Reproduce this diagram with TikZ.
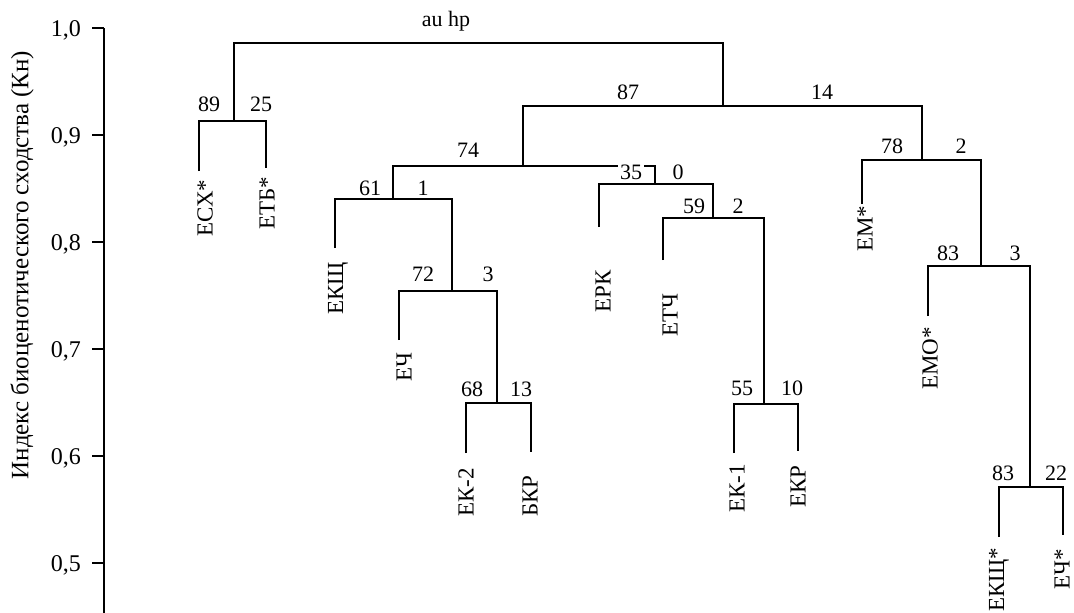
\documentclass[tikz,border=0pt]{standalone}
\usepackage{fontspec}
\setmainfont{Liberation Serif}
\begin{document}
\begin{tikzpicture}[x=1pt,y=-1pt,
  branch/.style={line width=1.2pt},
  axisline/.style={line width=1.8pt},
  num/.style={font=\fontsize{22}{24}\selectfont, inner sep=0pt},
  leaflabel/.style={font=\fontsize{23}{25}\selectfont, rotate=90, anchor=west, inner sep=0pt},
  ticklabel/.style={font=\fontsize{24}{26}\selectfont, anchor=base east, inner sep=0pt},
]
\useasboundingbox (0,0) rectangle (1074,613);

% similarity axis
\coordinate (axtop) at (104,28);
\coordinate (axbot) at (104,613);
\draw[axisline] (axtop) -- (axbot);
\foreach \v/\y in {{1,0}/28,{0,9}/135,{0,8}/242,{0,7}/349,{0,6}/456,{0,5}/563}{
  \coordinate (tk\y) at (104,\y);
  \draw[axisline] (tk\y) -- ++(-12,0) coordinate (tl\y);
  \node[ticklabel] (lab\y) at (81,\y+8) {\v};
}
\node[rotate=90, font=\fontsize{25}{27}\selectfont, inner sep=0pt] (ytitle) at (22,265)
  {Индекс биоценотического сходства (Кн)};

% junctions: (x of stem, y of crossbar)
\coordinate (root) at (478,43);
\coordinate (jA) at (234,121);
\coordinate (jB) at (723,106);
\coordinate (jC) at (523,166);
\coordinate (jD) at (393,199);
\coordinate (jE) at (452,291);
\coordinate (jF) at (497,403);
\coordinate (jG) at (655,184);
\coordinate (jI) at (713,218);
\coordinate (jJ) at (764,404);
\coordinate (jH) at (922,160);
\coordinate (jK) at (981,266);
\coordinate (jL) at (1030,487);

% leaf tips
\coordinate (lESX) at (199,171);
\coordinate (lETB) at (266,168);
\coordinate (lEKSh) at (335,248);
\coordinate (lECh) at (399,340);
\coordinate (lEK2) at (466,453);
\coordinate (lBKR) at (531,452);
\coordinate (lERK) at (599,227);
\coordinate (lETCh) at (663,260);
\coordinate (lEK1) at (734,453);
\coordinate (lEKR) at (798,451);
\coordinate (lEM) at (862,204);
\coordinate (lEMO) at (928,316);
\coordinate (lEKShs) at (999,537);
\coordinate (lEChs) at (1063,535);

% branches
\draw[branch] (jA) |- (root) -| (jB);
\draw[branch] (lESX) |- (jA) -| (lETB);
\draw[branch] (jC) |- (jB) -| (jH);
\draw[branch] (jD) |- (jC) -| (jG);
\draw[branch] (lEKSh) |- (jD) -| (jE);
\draw[branch] (lECh) |- (jE) -| (jF);
\draw[branch] (lEK2) |- (jF) -| (lBKR);
\draw[branch] (lERK) |- (jG) -| (jI);
\draw[branch] (lETCh) |- (jI) -| (jJ);
\draw[branch] (lEK1) |- (jJ) -| (lEKR);
\draw[branch] (lEM) |- (jH) -| (jK);
\draw[branch] (lEMO) |- (jK) -| (jL);
\draw[branch] (lEKShs) |- (jL) -| (lEChs);

% leaf names
\node[leaflabel] (nESX) at (205,237) {ЕСХ*};
\node[leaflabel] (nETB) at (267,230) {ЕТБ*};
\node[leaflabel] (nEKSh) at (338,315) {ЕКЩ};
\node[leaflabel] (nECh) at (404,382) {ЕЧ};
\node[leaflabel] (nEK2) at (466,517) {ЕК-2};
\node[leaflabel] (nBKR) at (530,517) {БКР};
\node[leaflabel] (nERK) at (603,313) {ЕРК};
\node[leaflabel] (nETCh) at (670,337) {ЕТЧ};
\node[leaflabel] (nEK1) at (737,513) {ЕК-1};
\node[leaflabel] (nEKR) at (798,508) {ЕКР};
\node[leaflabel] (nEM) at (865,252) {ЕМ*};
\node[leaflabel] (nEMO) at (930,390) {ЕМО*};
\node[leaflabel] (nEKShs) at (999,612) {ЕКЩ*};
\node[leaflabel] (nEChs) at (1062,590) {ЕЧ*};

% au / bp values
\node[num, anchor=base] (auhp) at (446,27) {au\ hp};
\node[num] (v89) at (209,104) {89};
\node[num] (v25) at (261,104) {25};
\node[num] (v87) at (628,92) {87};
\node[num] (v14) at (822,92) {14};
\node[num] (v74) at (468,150) {74};
\node[num, fill=white, inner xsep=2pt] (v35) at (631,172) {35};
\node[num] (v0) at (678,172) {0};
\node[num] (v61) at (370,188) {61};
\node[num] (v1) at (423,188) {1};
\node[num] (v72) at (423,274) {72};
\node[num] (v3a) at (488,274) {3};
\node[num] (v68) at (472,389) {68};
\node[num] (v13) at (521,389) {13};
\node[num] (v59) at (694,206) {59};
\node[num] (v2a) at (738,206) {2};
\node[num] (v55) at (742,388) {55};
\node[num] (v10) at (792,388) {10};
\node[num] (v78) at (892,146) {78};
\node[num] (v2b) at (961,146) {2};
\node[num] (v83a) at (948,253) {83};
\node[num] (v3b) at (1015,253) {3};
\node[num] (v83b) at (1003,473) {83};
\node[num] (v22) at (1056,473) {22};
\end{tikzpicture}
\end{document}
